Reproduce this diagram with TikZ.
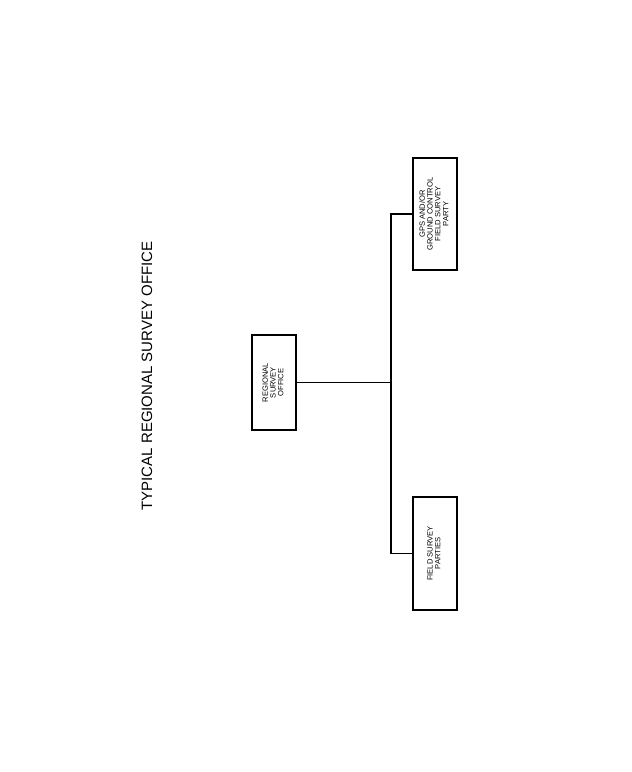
\documentclass[tikz,border=0pt]{standalone}
\usepackage{fontspec}
\setmainfont{Liberation Sans}
\begin{document}
\begin{tikzpicture}[x=1pt,y=-1pt,
  orgbox/.style={draw,line width=1.7pt,minimum width=44pt,inner sep=0pt,align=center,font=\fontsize{7.6}{7.8}\selectfont},
  conn/.style={line width=1.8pt}]
\useasboundingbox (0,0) rectangle (632,772);
\node[orgbox,minimum height=112pt] (gps) at (435,214) {\rotatebox{90}{\begin{tabular}{@{}c@{}}GPS AND/OR\\GROUND CONTROL\\FIELD SURVEY\\PARTY\end{tabular}}};
\node[orgbox,minimum height=95pt] (rso) at (274,382.5) {\rotatebox{90}{\begin{tabular}{@{}c@{}}REGIONAL\\SURVEY\\OFFICE\end{tabular}}};
\node[orgbox,minimum height=113pt] (fsp) at (435,553.5) {\rotatebox{90}{\begin{tabular}{@{}c@{}}FIELD SURVEY\\PARTIES\end{tabular}}};
\node[font=\fontsize{15}{17}\selectfont,rotate=90] (title) at (147,376) {TYPICAL REGIONAL SURVEY OFFICE};
\coordinate (j) at (391,382.5);
\draw[conn] (rso.east) -- (j);
\draw[conn] (gps.west) -| (j) |- (fsp.west);
\end{tikzpicture}
\end{document}
